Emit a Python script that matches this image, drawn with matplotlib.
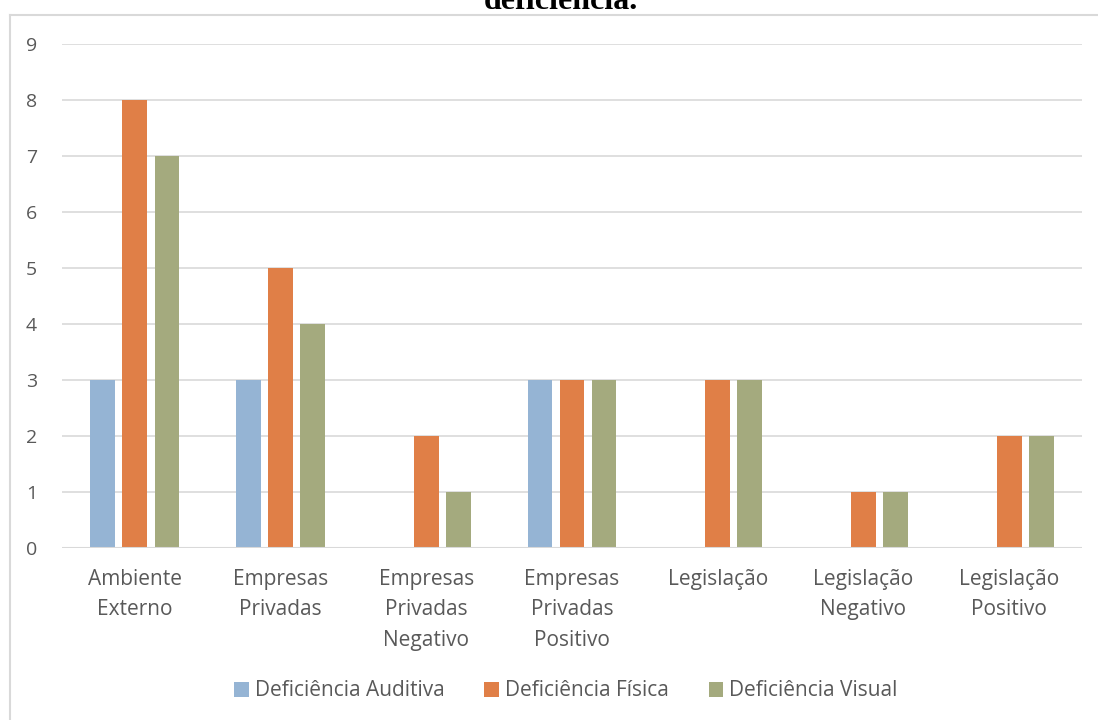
import numpy as np
import matplotlib.pyplot as plt
from matplotlib.lines import Line2D

categorias = ["Ambiente\nExterno", "Empresas\nPrivadas", "Empresas\nPrivadas\nNegativo",
              "Empresas\nPrivadas\nPositivo", "Legislação", "Legislação\nNegativo",
              "Legislação\nPositivo"]
series = ["Deficiência Auditiva", "Deficiência Física", "Deficiência Visual"]
auditiva = [3, 3, 0, 3, 0, 0, 0]
fisica = [8, 5, 2, 3, 3, 1, 2]
visual = [7, 4, 1, 3, 3, 1, 2]
cores = ["#95B4D4", "#E07F47", "#A4AA7E"]

W, H = 1098, 720
fig = plt.figure(figsize=(W / 100, H / 100), dpi=100)
fig.patch.set_facecolor("white")

# moldura do gráfico (cortada à direita e embaixo)
fig.add_artist(Line2D([10 / W, 10 / W], [0, 1 - 15 / H], color="#D9D9D9", lw=1.5))
fig.add_artist(Line2D([10 / W, 1], [1 - 15 / H, 1 - 15 / H], color="#D9D9D9", lw=1.5))

# título (só a última linha aparece)
fig.text(561 / W, 1 - 9 / H, "deficiência.", ha="center", va="baseline",
         fontsize=23, fontweight="bold", family="Liberation Serif", color="black")

ax = fig.add_axes([62 / W, 1 - 548 / H, (1082 - 62) / W, (548 - 44) / H])
x = np.arange(len(categorias))
larg = 0.17
desl = 0.22
for i, (vals, nome) in enumerate(zip([auditiva, fisica, visual], series)):
    ax.bar(x + (i - 1) * desl, vals, width=larg, color=cores[i], label=nome, zorder=3)

ax.set_xlim(-0.5, len(categorias) - 0.5)
ax.set_ylim(0, 9)
ax.set_yticks(range(10))
ax.yaxis.grid(True, color="#D9D9D9", lw=1.2, zorder=0)
for s in ax.spines.values():
    s.set_visible(False)
ax.axhline(0, color="#D9D9D9", lw=1.5, zorder=4)
ax.tick_params(length=0, labelcolor="#595959")
ax.tick_params(axis="y", pad=18, labelsize=14)
ax.tick_params(axis="x", pad=15, labelsize=15)
ax.set_xticks(x)
ax.set_xticklabels(categorias, family="Open Sans", linespacing=1.6)
for t in ax.get_yticklabels():
    t.set_family("Open Sans")

fig.legend(loc="center", bbox_to_anchor=(566 / W, 1 - 691 / H), ncol=3, frameon=False,
           prop={"family": "Open Sans", "size": 15}, labelcolor="#595959",
           handlelength=0.7, handleheight=0.7, handletextpad=0.3, columnspacing=1.9)

fig.savefig("out.png", dpi=100)
